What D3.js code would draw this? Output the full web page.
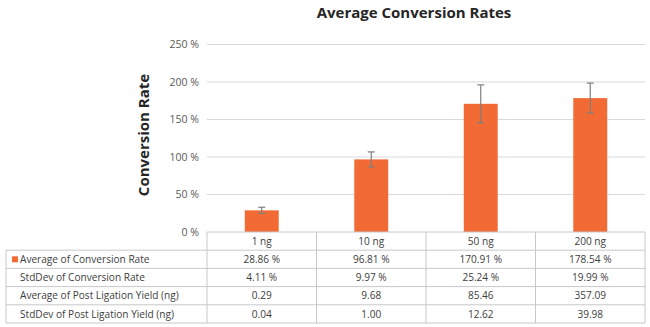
<!DOCTYPE html>
<html>
<head>
<meta charset="utf-8">
<script src="https://cdn.jsdelivr.net/npm/d3@7"></script>
<style>
  html, body { margin: 0; padding: 0; background: #ffffff; }
  svg { display: block; font-family: "Open Sans", "Noto Sans", sans-serif; }
</style>
</head>
<body>
<svg id="chart" width="650" height="327"></svg>
<script>
// Sample amounts (x categories)
const categories = ["1 ng", "10 ng", "50 ng", "200 ng"];
// Conversion rate means and standard deviations (fractions)
const avgConversion = [0.2886, 0.9681, 1.7091, 1.7854];
const sdConversion = [0.0411, 0.0997, 0.2524, 0.1999];
// Post ligation yield (ng)
const avgYield = [0.29, 9.68, 85.46, 357.09];
const sdYield = [0.04, 1.00, 12.62, 39.98];
// Y axis ticks
const yTicks = [0, 0.5, 1.0, 1.5, 2.0, 2.5];

const rowLabels = [
  "Average of Conversion Rate",
  "StdDev of Conversion Rate",
  "Average of Post Ligation Yield (ng)",
  "StdDev of Post Ligation Yield (ng)"
];

const pct = v => (v * 100).toFixed(2) + " %";
const num = v => v.toFixed(2);
const tableRows = [
  avgConversion.map(pct),
  sdConversion.map(pct),
  avgYield.map(num),
  sdYield.map(num)
];

const svg = d3.select("#chart");
const plotLeft = 207, plotRight = 645, plotTop = 44.5, plotBottom = 232;
const tableLeft = 6, rowH = 18.2;
const cellFont = 10.1;

const x = d3.scaleBand().domain(categories).range([plotLeft, plotRight]);
const y = d3.scaleLinear().domain([0, 2.5]).range([plotBottom, plotTop]);

const textColor = "#404040";
const gridColor = "#d9d9d9";
const borderColor = "#c8c8c8";
const barColor = "#f26b35";

// Title
svg.append("text")
  .attr("x", 414).attr("y", 18)
  .attr("text-anchor", "middle")
  .attr("font-size", 15).attr("font-weight", "bold")
  .attr("fill", "#262626")
  .text("Average Conversion Rates");

// Y axis title
svg.append("text")
  .attr("transform", "translate(148.5,135) rotate(-90)")
  .attr("text-anchor", "middle")
  .attr("font-size", 15).attr("font-weight", "bold")
  .attr("fill", "#262626")
  .text("Conversion Rate");

// Gridlines
svg.append("g").selectAll("line")
  .data(yTicks.filter(t => t > 0))
  .join("line")
  .attr("x1", plotLeft).attr("x2", plotRight)
  .attr("y1", d => y(d)).attr("y2", d => y(d))
  .attr("stroke", gridColor).attr("stroke-width", 1);

// Y axis labels
const yAxis = d3.axisLeft(y).tickValues(yTicks)
  .tickFormat(d => Math.round(d * 100) + " %")
  .tickSize(0).tickPadding(0);
const yg = svg.append("g").attr("transform", `translate(199,0)`).call(yAxis);
yg.select(".domain").remove();
yg.selectAll("text")
  .attr("font-size", 10.5).attr("fill", "#595959")
  .attr("font-family", "'Open Sans', 'Noto Sans', sans-serif");

// Bars
const barW = x.bandwidth() * 0.31;
svg.append("g").selectAll("rect")
  .data(categories)
  .join("rect")
  .attr("x", (d, i) => x(d) + x.bandwidth() / 2 - barW / 2)
  .attr("width", barW)
  .attr("y", (d, i) => y(avgConversion[i]))
  .attr("height", (d, i) => y(0) - y(avgConversion[i]))
  .attr("fill", barColor);

// Error bars
const eb = svg.append("g").attr("stroke", "#7f7f7f").attr("stroke-width", 1.2);
categories.forEach((c, i) => {
  const cx = x(c) + x.bandwidth() / 2;
  const lo = y(avgConversion[i] - sdConversion[i]);
  const hi = y(avgConversion[i] + sdConversion[i]);
  eb.append("line").attr("x1", cx).attr("x2", cx).attr("y1", lo).attr("y2", hi);
  eb.append("line").attr("x1", cx - 3.5).attr("x2", cx + 3.5).attr("y1", lo).attr("y2", lo);
  eb.append("line").attr("x1", cx - 3.5).attr("x2", cx + 3.5).attr("y1", hi).attr("y2", hi);
});

// Data table
const tbl = svg.append("g");
const tableTop = plotBottom;
const nRows = tableRows.length;
const tableBottom = tableTop + rowH * (nRows + 1);

// Horizontal lines
tbl.append("line")
  .attr("x1", plotLeft).attr("x2", plotRight)
  .attr("y1", tableTop).attr("y2", tableTop)
  .attr("stroke", borderColor);
for (let r = 1; r <= nRows + 1; r++) {
  const yy = tableTop + rowH * r;
  tbl.append("line")
    .attr("x1", tableLeft).attr("x2", plotRight)
    .attr("y1", yy).attr("y2", yy)
    .attr("stroke", borderColor);
}
// Vertical lines
tbl.append("line")
  .attr("x1", tableLeft).attr("x2", tableLeft)
  .attr("y1", tableTop + rowH).attr("y2", tableBottom)
  .attr("stroke", borderColor);
categories.forEach(c => {
  tbl.append("line")
    .attr("x1", x(c)).attr("x2", x(c))
    .attr("y1", tableTop).attr("y2", tableBottom)
    .attr("stroke", borderColor);
});
tbl.append("line")
  .attr("x1", plotRight).attr("x2", plotRight)
  .attr("y1", tableTop).attr("y2", tableBottom)
  .attr("stroke", borderColor);

// Category header
tbl.selectAll("text.cat")
  .data(categories)
  .join("text")
  .attr("class", "cat")
  .attr("x", d => x(d) + x.bandwidth() / 2)
  .attr("y", tableTop + rowH / 2 + 3.7)
  .attr("text-anchor", "middle")
  .attr("font-size", cellFont).attr("fill", textColor)
  .text(d => d);

// Row labels and values
rowLabels.forEach((lab, r) => {
  const cy = tableTop + rowH * (r + 1) + rowH / 2 + 3.7;
  tbl.append("text")
    .attr("x", 20).attr("y", cy)
    .attr("font-size", cellFont).attr("fill", textColor)
    .text(lab);
  tbl.selectAll(null)
    .data(tableRows[r])
    .join("text")
    .attr("x", (d, i) => x(categories[i]) + x.bandwidth() / 2)
    .attr("y", cy)
    .attr("text-anchor", "middle")
    .attr("font-size", cellFont).attr("fill", textColor)
    .text(d => d);
});

// Legend key for the bar series
tbl.append("rect")
  .attr("x", 12).attr("y", tableTop + rowH + rowH / 2 - 3)
  .attr("width", 6).attr("height", 6)
  .attr("fill", barColor);
</script>
</body>
</html>
